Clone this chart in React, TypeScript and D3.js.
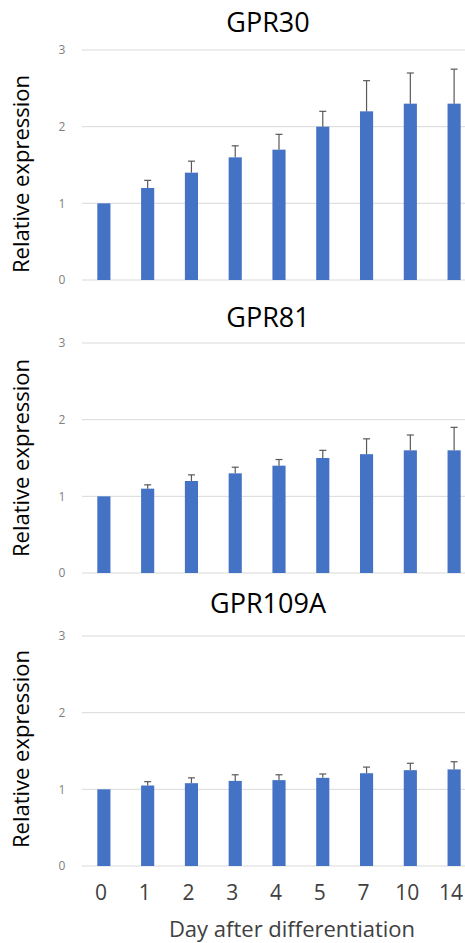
import React from 'react';
import * as d3 from 'd3';

const days = ['0', '1', '2', '3', '4', '5', '7', '10', '14'];
const yTicks = [0, 1, 2, 3];

const gpr30Values = [1.0, 1.2, 1.4, 1.6, 1.7, 2.0, 2.2, 2.3, 2.3];
const gpr30Errors = [0, 0.1, 0.15, 0.15, 0.2, 0.2, 0.4, 0.4, 0.45];

const gpr81Values = [1.0, 1.1, 1.2, 1.3, 1.4, 1.5, 1.55, 1.6, 1.6];
const gpr81Errors = [0, 0.05, 0.08, 0.08, 0.08, 0.1, 0.2, 0.2, 0.3];

const gpr109aValues = [1.0, 1.05, 1.08, 1.11, 1.12, 1.15, 1.21, 1.25, 1.26];
const gpr109aErrors = [0, 0.05, 0.07, 0.08, 0.07, 0.05, 0.08, 0.09, 0.1];

const width = 465;
const height = 943;
const font = "'Open Sans', 'Noto Sans', sans-serif";

const xScale = d3.scaleBand().domain(days).range([82, 476]).paddingInner(0.7).paddingOuter(0.35);

const Panel = ({ title, values, errors, top, titleY, labelShift }) => {
  // top = y of the "3" gridline, bottom = y of the "0" gridline
  const bottom = top + 230;
  const yScale = d3.scaleLinear().domain([0, 3]).range([bottom, top]);
  const capHalf = 3.5;
  return (
    <g>
      <text x={268} y={titleY} textAnchor="middle" fontFamily={font} fontSize={27} fill="#000">
        {title}
      </text>
      {yTicks.map(t => (
        <g key={t}>
          <line x1={82} x2={width} y1={yScale(t)} y2={yScale(t)} stroke="#d9d9d9" strokeWidth={1} />
          <text x={62} y={yScale(t)} dy="0.35em" textAnchor="middle" fontFamily={font} fontSize={12} fill="#808080">
            {t}
          </text>
        </g>
      ))}
      <text
        transform={`translate(29, ${(top + bottom) / 2 + labelShift}) rotate(-90)`}
        textAnchor="middle"
        fontFamily={font}
        fontSize={22}
        fill="#000"
      >
        Relative expression
      </text>
      {days.map((d, i) => {
        const x = xScale(d);
        const cx = x + xScale.bandwidth() / 2;
        const yTop = yScale(values[i]);
        const yErr = yScale(values[i] + errors[i]);
        return (
          <g key={d}>
            <rect x={x} y={yTop} width={xScale.bandwidth()} height={bottom - yTop} fill="#4472c4" />
            {errors[i] > 0 && (
              <g stroke="#595959" strokeWidth={1.2}>
                <line x1={cx} x2={cx} y1={yTop} y2={yErr} />
                <line x1={cx - capHalf} x2={cx + capHalf} y1={yErr} y2={yErr} />
              </g>
            )}
          </g>
        );
      })}
    </g>
  );
};

const App = () => {
  return (
    <svg
      width={width}
      height={height}
      style={{ position: 'absolute', left: 0, top: 0, background: '#fff' }}
    >
      <rect width={width} height={height} fill="#fff" />
      <Panel title="GPR30" values={gpr30Values} errors={gpr30Errors} top={50} titleY={32} labelShift={9} />
      <Panel title="GPR81" values={gpr81Values} errors={gpr81Errors} top={343} titleY={327} labelShift={0} />
      <Panel title="GPR109A" values={gpr109aValues} errors={gpr109aErrors} top={636} titleY={613} labelShift={-2} />
      {days.map(d => (
        <text
          key={d}
          x={xScale(d) + xScale.bandwidth() / 2 - 3}
          y={900}
          textAnchor="middle"
          fontFamily={font}
          fontSize={21}
          fill="#404040"
        >
          {d}
        </text>
      ))}
      <text x={292} y={937} textAnchor="middle" fontFamily={font} fontSize={22} fill="#404040">
        Day after differentiation
      </text>
    </svg>
  );
};

export default App;
